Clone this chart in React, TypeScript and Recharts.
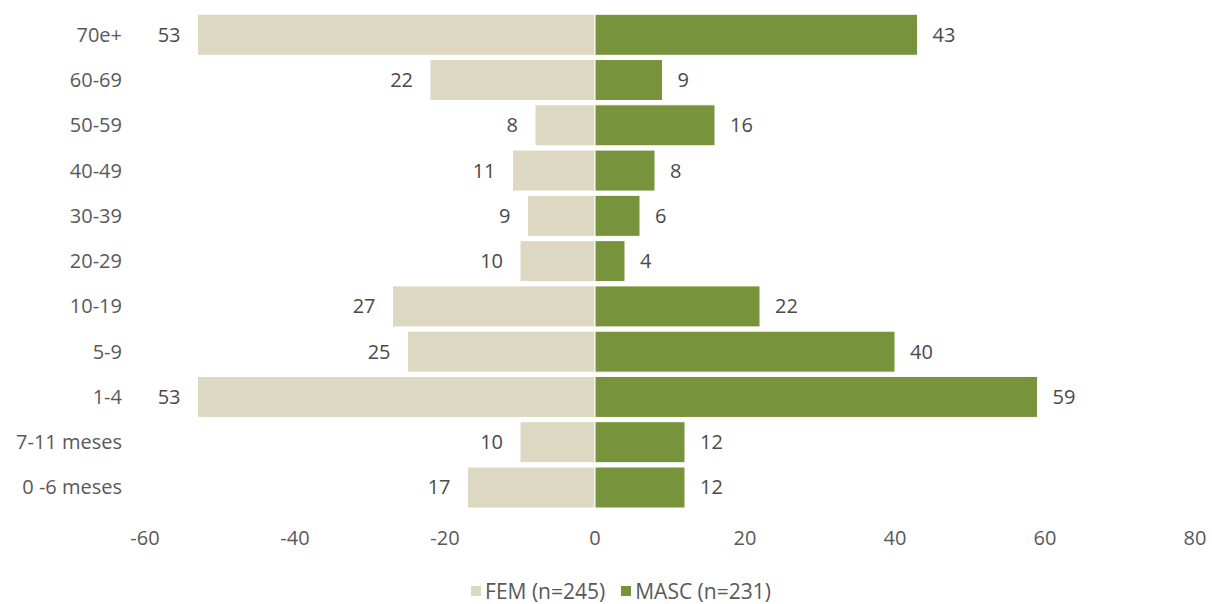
/** Age pyramid: women to the left (beige, negative), men to the right (olive). */
import { Bar, BarChart, LabelList, XAxis, YAxis } from "recharts";

const ageGroups = [
  "70e+",
  "60-69",
  "50-59",
  "40-49",
  "30-39",
  "20-29",
  "10-19",
  "5-9",
  "1-4",
  "7-11 meses",
  "0 -6 meses",
];
const femCounts = [53, 22, 8, 11, 9, 10, 27, 25, 53, 10, 17];
const mascCounts = [43, 9, 16, 8, 6, 4, 22, 40, 59, 12, 12];
const xTicks = [-60, -40, -20, 0, 20, 40, 60, 80];

const FEM = "#DCD8C2";
const MASC = "#77933C";
const FONT = "'Open Sans', 'Noto Sans', sans-serif";
const FS = 20;

const data = ageGroups.map((age, i) => ({
  age,
  fem: -femCounts[i],
  masc: mascCounts[i],
}));

function femLabel(p: any) {
  const left = Math.min(p.x, p.x + p.width);
  return (
    <text x={left - 17} y={p.y + p.height / 2} dy="0.35em" textAnchor="end"
      fontSize={FS} fontFamily={FONT} fill="#4a4a4a">
      {Math.abs(p.value)}
    </text>
  );
}

function mascLabel(p: any) {
  const right = Math.max(p.x, p.x + p.width);
  return (
    <text x={right + 15} y={p.y + p.height / 2} dy="0.35em" textAnchor="start"
      fontSize={FS} fontFamily={FONT} fill="#4a4a4a">
      {p.value}
    </text>
  );
}

export default function App() {
  return (
    <div style={{ position: "absolute", left: 0, top: 0, width: 1212, height: 604, background: "#fff" }}>
      <BarChart
        width={1212}
        height={604}
        data={data}
        layout="vertical"
        stackOffset="sign"
        barCategoryGap="5%"
        margin={{ top: 12, right: 17, bottom: 0, left: 0 }}
      >
        <XAxis
          type="number"
          domain={[-60, 80]}
          ticks={xTicks}
          axisLine={false}
          tickLine={false}
          tickSize={0}
          tickMargin={21}
          height={94}
          tick={{ fontSize: FS, fontFamily: FONT, fill: "#595959" }}
        />
        <YAxis
          type="category"
          dataKey="age"
          width={145}
          axisLine={false}
          tickLine={false}
          tickSize={0}
          tickMargin={23}
          interval={0}
          tick={{ fontSize: FS, fontFamily: FONT, fill: "#595959" }}
        />
        <Bar dataKey="fem" stackId="a" fill={FEM} stroke="#fff" strokeWidth={1} isAnimationActive={false}>
          <LabelList dataKey="fem" content={femLabel} />
        </Bar>
        <Bar dataKey="masc" stackId="a" fill={MASC} stroke="#fff" strokeWidth={1} isAnimationActive={false}>
          <LabelList dataKey="masc" content={mascLabel} />
        </Bar>
      </BarChart>
      <div
        style={{
          position: "absolute",
          top: 580,
          left: 0,
          width: 1212,
          display: "flex",
          justifyContent: "center",
          paddingLeft: 30,
          boxSizing: "border-box",
          gap: 16,
          fontFamily: FONT,
          fontSize: 21,
          color: "#595959",
          lineHeight: "22px",
        }}
      >
        <span style={{ display: "flex", alignItems: "center", gap: 4 }}>
          <span style={{ width: 10, height: 10, background: FEM, display: "inline-block" }} />
          FEM (n=245)
        </span>
        <span style={{ display: "flex", alignItems: "center", gap: 4 }}>
          <span style={{ width: 10, height: 10, background: MASC, display: "inline-block" }} />
          MASC (n=231)
        </span>
      </div>
    </div>
  );
}
